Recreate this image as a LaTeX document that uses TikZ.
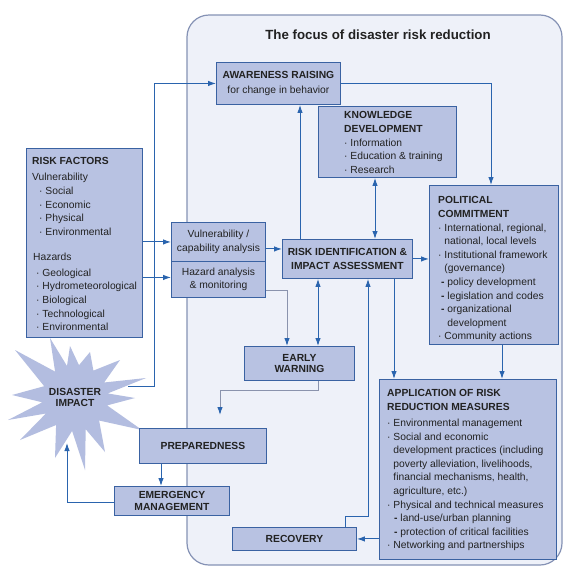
\documentclass[tikz,border=0pt]{standalone}
\usepackage{fontspec}
\setmainfont{Liberation Sans}
\usetikzlibrary{arrows.meta,calc}
\definecolor{boxfill}{HTML}{B8C2E2}
\definecolor{boxline}{HTML}{3A62A2}
\definecolor{arrowblue}{HTML}{2A64AE}
\definecolor{outerfill}{HTML}{EEF1F9}
\definecolor{outerline}{HTML}{8592B5}
\definecolor{starfill}{HTML}{B3BDE0}
\definecolor{txtcol}{HTML}{222222}
\definecolor{grayline}{HTML}{8A93AD}
\newcommand\dfs{\fontsize{10.3}{13.6}\selectfont}
\begin{document}
\begin{tikzpicture}[x=1pt,y=-1pt,
  box/.style={draw=boxline, fill=boxfill, line width=0.9pt, anchor=north west,
    inner sep=0pt, align=center, text=txtcol, font=\dfs},
  tx/.style={anchor=north west, inner sep=0pt, align=left, text=txtcol, font=\dfs},
  arr/.style={draw=arrowblue, line width=1pt, -{Latex[length=8pt,width=5.5pt]}},
  darr/.style={draw=arrowblue, line width=1pt, {Latex[length=8pt,width=5.5pt]}-{Latex[length=8pt,width=5.5pt]}},
  garr/.style={draw=grayline, line width=1pt, -{Latex[length=8pt,width=5.5pt,color=arrowblue]}}]
\useasboundingbox (0,0) rectangle (564,568);
\fill[white] (0,0) rectangle (564,568);
% outer focus area
\draw[fill=outerfill, draw=outerline, line width=1.2pt, rounded corners=22pt] (187,15) rectangle (562,565);
\node[font=\fontsize{13.3}{16}\selectfont\bfseries, text=txtcol, inner sep=0pt] (title) at (378,35) {The focus of disaster risk reduction};
% disaster impact starburst
\fill[starfill] (12,395) -- (44.2,386.2) -- (15,350) -- (55.1,371.6) -- (50,338) -- (67,366) -- (70,346) -- (79,365.2) -- (90,352) -- (93.4,370.6) -- (120,360) -- (104.1,382.5) -- (146,378) -- (107.7,393.4) -- (135,398) -- (107.1,405.4) -- (142,430) -- (99.1,420.5) -- (105,452) -- (85.7,429.2) -- (85,470) -- (72.1,430.9) -- (55,458) -- (56.1,425) -- (20,440) -- (45.9,413.5) -- (8,420) -- (42.3,402.3) -- cycle;
\node[font=\fontsize{10.3}{11}\selectfont\bfseries, text=txtcol, align=center, inner sep=0pt] (dit) at (75,397.5) {DISASTER\\IMPACT};
\coordinate (disout) at (128,386);
\coordinate (distip) at (67,443);
% boxes
\node[box, minimum width=116pt, minimum height=189pt] (rf) at (26,148) {};
\node[tx] (rft) at (32,157.5) {\textbf{RISK FACTORS}\\[2.4pt]
Vulnerability\\
\hspace*{7pt}· Social\\
\hspace*{7pt}· Economic\\
\hspace*{7pt}· Physical\\
\hspace*{7pt}· Environmental\\[11.4pt]
\hspace*{1pt}Hazards\\[2.4pt]
\hspace*{4pt}· Geological\\
\hspace*{4pt}· Hydrometeorological\\
\hspace*{4pt}· Biological\\
\hspace*{4pt}· Technological\\
\hspace*{4pt}· Environmental};
\node[box, minimum width=124pt, minimum height=42pt] (aw) at (216,62) {\textbf{AWARENESS RAISING}\\[1pt]for change in behavior};
\node[box, minimum width=138pt, minimum height=71pt] (kd) at (318,106) {};
\node[tx] (kdt) at (344,111.5) {\textbf{KNOWLEDGE}\\\textbf{DEVELOPMENT}\\· Information\\· Education \& training\\· Research};
\node[box, minimum width=129pt, minimum height=159pt] (pc) at (429,185) {};
\node[tx] (pct) at (438,196.5) {\textbf{POLITICAL}\\
\textbf{COMMITMENT}\\
· International, regional,\\
\phantom{· }national, local levels\\
· Institutional framework\\
\phantom{· }(governance)\\
\hspace*{3pt}\textbf{-} policy development\\
\hspace*{3pt}\textbf{-} legislation and codes\\
\hspace*{3pt}\textbf{-} organizational\\
\hspace*{3pt}\phantom{\textbf{-} }development\\
· Community actions};
\node[box, minimum width=94pt, minimum height=39pt] (va) at (171,222) {Vulnerability /\\[1pt]capability analysis};
\node[box, minimum width=94pt, minimum height=36pt] (ha) at (171,261) {Hazard analysis\\[-0.6pt]\& monitoring};
\node[box, minimum width=130pt, minimum height=39pt, font=\dfs\bfseries] (ri) at (282,239) {RISK IDENTIFICATION \&\\[0.4pt]IMPACT ASSESSMENT};
\node[box, minimum width=110pt, minimum height=34pt, font=\fontsize{10.3}{11.2}\selectfont\bfseries] (ew) at (244,346) {EARLY\\WARNING};
\node[box, minimum width=127pt, minimum height=35pt, font=\dfs\bfseries] (pr) at (139,428) {PREPAREDNESS};
\node[box, minimum width=115pt, minimum height=29pt, font=\fontsize{10.3}{12.3}\selectfont\bfseries] (em) at (114,486) {EMERGENCY\\MANAGEMENT};
\node[box, minimum width=124pt, minimum height=23pt, font=\dfs\bfseries] (rc) at (232,527) {RECOVERY};
\node[box, minimum width=177pt, minimum height=180pt] (ap) at (379,379) {};
\node[tx] (apt) at (387,389.5) {\textbf{APPLICATION OF RISK}\\
\textbf{REDUCTION MEASURES}\\[2.4pt]
· Environmental management\\
· Social and economic\\
\phantom{· }development practices (including\\
\phantom{· }poverty alleviation, livelihoods,\\
\phantom{· }financial mechanisms, health,\\
\phantom{· }agriculture, etc.)\\
· Physical and technical measures\\
\hspace*{7pt}\textbf{-} land-use/urban planning\\
\hspace*{7pt}\textbf{-} protection of critical facilities\\
· Networking and partnerships};
% connectors
\draw[arr] (rf.east |- va.west) -- (va.west);
\draw[arr] ([yshift=2pt]rf.east |- ha.west) -- ([yshift=2pt]ha.west);
\draw[arr] (disout) -- ++(26,0) |- (aw.west);
\draw[arr] ([yshift=-7pt]va.east) -- ([yshift=-7pt]va.east -| ri.west);
\draw[arr] ([xshift=18pt]ri.north west) -- ([xshift=18pt]ri.north west |- aw.south);
\draw[darr] ([xshift=57pt]kd.south west) -- ([xshift=57pt]kd.south west |- ri.north);
\draw[arr] (ri.east) -- (ri.east -| pc.west);
\draw[arr] (aw.east) -| ([xshift=62pt]pc.north west);
\draw[garr] ([yshift=-11pt]ha.east) -| ([xshift=43pt]ew.north west);
\draw[darr] ([xshift=36pt]ri.south west) -- ([xshift=36pt]ri.south west |- ew.north);
\coordinate (preptip) at ([xshift=81pt,yshift=13pt]pr.north west);
\draw[garr] ([xshift=74pt]ew.south west) -- ++(0,10) -| (preptip);
\draw[arr] ([xshift=22pt]pr.south west) -- ([xshift=22pt]pr.south west |- em.north);
\draw[arr] ([yshift=-2pt]em.west) -| (distip);
\draw[arr] ([xshift=112pt]ri.south west) -- ([xshift=112pt]ri.south west |- ap.north);
\draw[arr] ([xshift=73pt]pc.south west) -- ([xshift=73pt]pc.south west |- ap.north);
\coordinate (rcbend) at (368,516);
\draw[arr] ([xshift=113pt]rc.north west) |- (rcbend) -- (rcbend |- ri.south);
\draw[arr] (ap.west |- rc.east) -- (rc.east);
\end{tikzpicture}
\end{document}
